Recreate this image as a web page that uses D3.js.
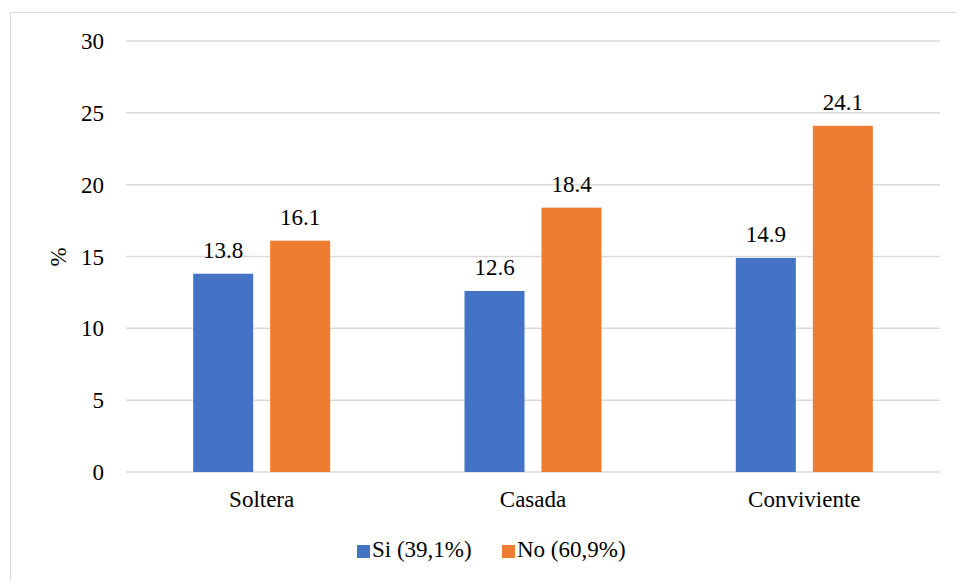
<!DOCTYPE html>
<html>
<head>
<meta charset="utf-8">
<script src="https://cdn.jsdelivr.net/npm/d3@7"></script>
</head>
<body style="margin:0">
<svg id="chart" width="956" height="581"></svg>
<script>
// Estado civil vs. porcentaje por respuesta
const categories = ["Soltera", "Casada", "Conviviente"];
const seriesNames = ["Si (39,1%)", "No (60,9%)"];
const siValues = [13.8, 12.6, 14.9];
const noValues = [16.1, 18.4, 24.1];
const yTicks = [0, 5, 10, 15, 20, 25, 30];
const colors = ["#4472C4", "#ED7D31"];

const FS = 23;

const svg = d3.select("#chart");
const W = 956, H = 581;

// text uses the page's default serif face
function label(sel) {
  return sel.attr("font-size", FS).attr("fill", "#000");
}

// outer frame
svg.append("rect")
  .attr("x", 10.5).attr("y", 12.5)
  .attr("width", W).attr("height", H)
  .attr("fill", "none").attr("stroke", "#d9d9d9").attr("stroke-width", 1);

const plot = { left: 126, right: 940, top: 41, bottom: 472 };

const x0 = d3.scaleBand().domain(categories).range([plot.left, plot.right]).padding(0);
const y = d3.scaleLinear().domain([0, 30]).range([plot.bottom, plot.top]);

// gridlines
svg.append("g").selectAll("line").data(yTicks).join("line")
  .attr("x1", plot.left).attr("x2", plot.right)
  .attr("y1", d => y(d)).attr("y2", d => y(d))
  .attr("stroke", "#d9d9d9").attr("stroke-width", 1.5);

// y axis tick labels
const yAxis = d3.axisLeft(y).tickValues(yTicks).tickSize(0).tickPadding(0);
const gy = svg.append("g").attr("transform", "translate(104,0)").call(yAxis);
gy.select(".domain").remove();
gy.attr("font-family", null).attr("font-size", null);
label(gy.selectAll("text")).attr("dy", "0.33em");

// y axis title
label(svg.append("text"))
  .attr("transform", "translate(66,257) rotate(-90)")
  .attr("text-anchor", "middle")
  .text("%");

// x axis category labels
const xAxis = d3.axisBottom(x0).tickSize(0).tickPadding(0);
const gx = svg.append("g").attr("transform", `translate(0,${plot.bottom})`).call(xAxis);
gx.select(".domain").remove();
gx.attr("font-family", null).attr("font-size", null);
label(gx.selectAll("text")).attr("y", 35).attr("dy", 0);

// bars and value labels
const barW = 60, gap = 17;
const rows = categories.map((c, i) => ({ cat: c, vals: [siValues[i], noValues[i]] }));
const groups = svg.append("g").selectAll("g").data(rows).join("g");
groups.each(function (d) {
  const cx = x0(d.cat) + x0.bandwidth() / 2;
  const g = d3.select(this);
  d.vals.forEach((v, j) => {
    const bx = j === 0 ? cx - gap / 2 - barW : cx + gap / 2;
    g.append("rect")
      .attr("x", bx).attr("y", y(v))
      .attr("width", barW).attr("height", y(0) - y(v))
      .attr("fill", colors[j]);
    label(g.append("text"))
      .attr("x", bx + barW / 2).attr("y", y(v) - 16)
      .attr("text-anchor", "middle")
      .text(v.toFixed(1));
  });
});

// legend
const legend = svg.append("g");
const legendX = [357, 502];
seriesNames.forEach((name, j) => {
  legend.append("rect")
    .attr("x", legendX[j]).attr("y", 545)
    .attr("width", 13).attr("height", 13)
    .attr("fill", colors[j]);
  label(legend.append("text"))
    .attr("x", legendX[j] + 15).attr("y", 557)
    .text(name);
});
</script>
</body>
</html>
